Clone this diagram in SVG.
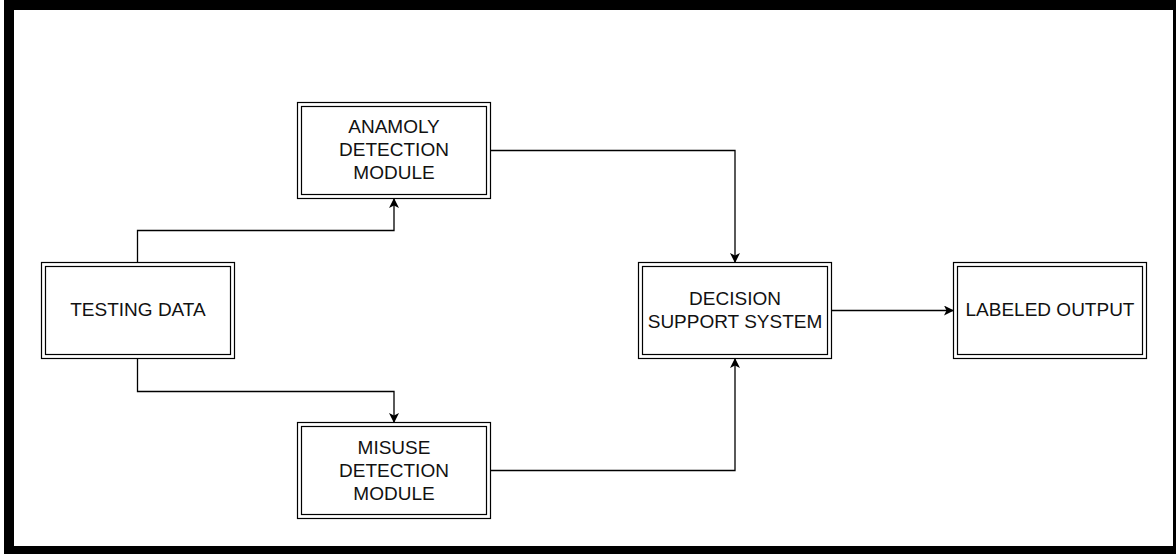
<svg xmlns="http://www.w3.org/2000/svg" width="1176" height="554" viewBox="0 0 1176 554">
  <style>
    .frame { fill: #ffffff; stroke: #000000; stroke-width: 10; }
    .box { fill: #ffffff; stroke: #000000; stroke-width: 1.2; }
    .box-in { fill: none; stroke: #000000; stroke-width: 1.2; }
    .lbl { font-family: "Liberation Sans", Arial, sans-serif; font-size: 19px; fill: #111111; text-anchor: middle; }
    .wire { fill: none; stroke: #000000; stroke-width: 1.3; }
  </style>
  <defs>
    <marker id="arrow" viewBox="0 0 10 10" refX="9" refY="5" markerWidth="10" markerHeight="10" markerUnits="userSpaceOnUse" orient="auto">
      <path d="M0,0 L10,5 L0,10 L2.5,5 Z" fill="#000000"/>
    </marker>
  </defs>

  <!-- page frame -->
  <rect class="frame" x="9" y="5" width="1169" height="546"/>

  <!-- connectors -->
  <g id="connectors">
    <path class="wire" d="M137.5,262 V230.5 H394 V199" marker-end="url(#arrow)"/>
    <path class="wire" d="M137.5,359 V391.5 H394 V422" marker-end="url(#arrow)"/>
    <path class="wire" d="M491,150.5 H735 V262" marker-end="url(#arrow)"/>
    <path class="wire" d="M491,470.5 H735 V359" marker-end="url(#arrow)"/>
    <path class="wire" d="M832,310.5 H953" marker-end="url(#arrow)"/>
  </g>

  <g id="testing-data">
    <rect class="box" x="41.5" y="262.5" width="193" height="96"/>
    <rect class="box-in" x="45.5" y="266.5" width="185" height="88"/>
    <text class="lbl" x="138" y="316">TESTING DATA</text>
  </g>

  <g id="anomaly-detection">
    <rect class="box" x="297.5" y="102.5" width="193" height="96"/>
    <rect class="box-in" x="301.5" y="106.5" width="185" height="88"/>
    <text class="lbl" x="394" y="133">ANAMOLY</text>
    <text class="lbl" x="394" y="156">DETECTION</text>
    <text class="lbl" x="394" y="179">MODULE</text>
  </g>

  <g id="misuse-detection">
    <rect class="box" x="297.5" y="422.5" width="193" height="96"/>
    <rect class="box-in" x="301.5" y="426.5" width="185" height="88"/>
    <text class="lbl" x="394" y="454">MISUSE</text>
    <text class="lbl" x="394" y="477">DETECTION</text>
    <text class="lbl" x="394" y="500">MODULE</text>
  </g>

  <g id="decision-support">
    <rect class="box" x="638.5" y="262.5" width="193" height="96"/>
    <rect class="box-in" x="642.5" y="266.5" width="185" height="88"/>
    <text class="lbl" x="735" y="305">DECISION</text>
    <text class="lbl" x="735" y="328">SUPPORT SYSTEM</text>
  </g>

  <g id="labeled-output">
    <rect class="box" x="953.5" y="262.5" width="193" height="96"/>
    <rect class="box-in" x="957.5" y="266.5" width="185" height="88"/>
    <text class="lbl" x="1050" y="316">LABELED OUTPUT</text>
  </g>
</svg>
